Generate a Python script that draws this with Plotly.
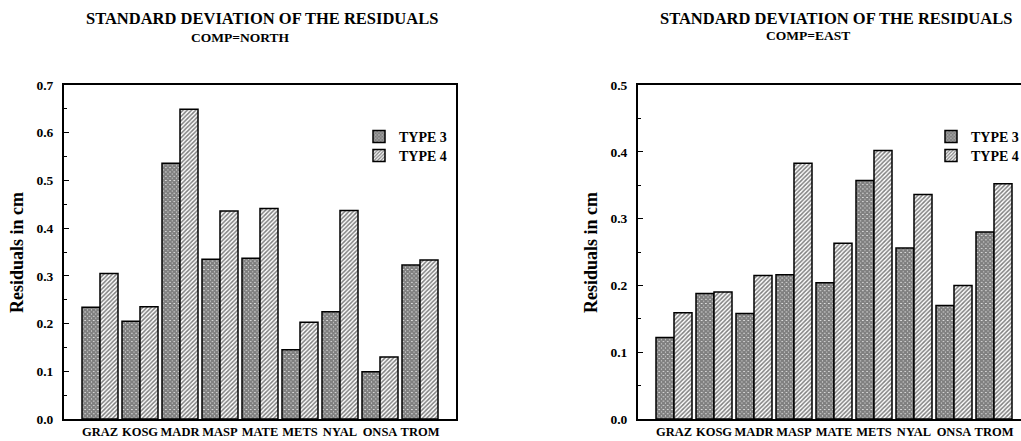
import plotly.graph_objects as go

stations = ["GRAZ", "KOSG", "MADR", "MASP", "MATE", "METS", "NYAL", "ONSA", "TROM"]
north_type3 = [0.234, 0.205, 0.536, 0.335, 0.337, 0.145, 0.225, 0.099, 0.323]
north_type4 = [0.305, 0.235, 0.649, 0.436, 0.441, 0.203, 0.437, 0.130, 0.333]
east_type3 = [0.122, 0.188, 0.158, 0.216, 0.204, 0.357, 0.256, 0.170, 0.280]
east_type4 = [0.159, 0.190, 0.215, 0.383, 0.263, 0.402, 0.336, 0.200, 0.352]
north_yticks = [0.0, 0.1, 0.2, 0.3, 0.4, 0.5, 0.6, 0.7]
east_yticks = [0.0, 0.1, 0.2, 0.3, 0.4, 0.5]

W, H = 1021, 441
FONT = "Liberation Serif"

def px_x(v):
    return v / W

def px_y(v):
    return (H - v) / H

pat3 = dict(shape="x", fgcolor="black", bgcolor="white", size=3, solidity=0.9)
pat4 = dict(shape="/", fgcolor="black", bgcolor="white", size=3, solidity=0.5)
line = dict(color="black", width=1.5)

fig = go.Figure()
fig.add_trace(go.Bar(x=stations, y=north_type3, name="TYPE 3", xaxis="x", yaxis="y",
                     marker=dict(color="white", pattern=pat3, line=line), legend="legend"))
fig.add_trace(go.Bar(x=stations, y=north_type4, name="TYPE 4", xaxis="x", yaxis="y",
                     marker=dict(color="white", pattern=pat4, line=line), legend="legend2"))
fig.add_trace(go.Bar(x=stations, y=east_type3, name="TYPE 3", xaxis="x2", yaxis="y2",
                     marker=dict(color="white", pattern=pat3, line=line), legend="legend3"))
fig.add_trace(go.Bar(x=stations, y=east_type4, name="TYPE 4", xaxis="x2", yaxis="y2",
                     marker=dict(color="white", pattern=pat4, line=line), legend="legend4"))

xtickfont = dict(family=FONT, size=12.5, color="black", weight="bold")
ytickfont = dict(family=FONT, size=13.5, color="black", weight="bold")
ydom = [px_y(419), px_y(85)]

common_x = dict(type="category", showline=True, linewidth=2, linecolor="black",
                ticks="", tickfont=xtickfont, showgrid=False, zeroline=False,
                ticklabelstandoff=0, tickangle=0, automargin=False)
common_y = dict(showline=True, linewidth=2, linecolor="black", ticks="inside",
                ticklen=5, tickwidth=1, tickcolor="black", tickfont=ytickfont,
                showgrid=False, zeroline=False, ticklabelstandoff=6, automargin=False,
                minor=dict(dtick=0.05, ticks="inside", ticklen=3, tickcolor="black", tickwidth=1))

legfont = dict(family=FONT, size=14, color="black", weight="bold")

def leg(xpx, ypx):
    return dict(x=px_x(xpx), y=px_y(ypx), xanchor="left", yanchor="middle",
                font=legfont, bgcolor="rgba(0,0,0,0)", itemclick=False, borderwidth=0)

fig.update_layout(
    width=W, height=H, margin=dict(l=0, r=0, t=0, b=0, autoexpand=False),
    paper_bgcolor="white", plot_bgcolor="white",
    barmode="group", bargap=0.1, bargroupgap=0,
    xaxis=dict(common_x, domain=[px_x(64), px_x(456)], range=[-0.9, 8.9], anchor="y", mirror=True),
    yaxis=dict(common_y, domain=ydom, range=[0, 0.7], tickvals=north_yticks,
               ticktext=[f"{v:.1f}" for v in north_yticks], anchor="x", mirror=True),
    xaxis2=dict(common_x, domain=[px_x(638), 1.0], range=[-0.9, 8.9 - (1030 - W) / 40], anchor="y2", mirror=True),
    yaxis2=dict(common_y, domain=ydom, range=[0, 0.5], tickvals=east_yticks,
                ticktext=[f"{v:.1f}" for v in east_yticks], anchor="x2", mirror=False),
    legend=leg(359, 137),
    legend2=leg(359, 156),
    legend3=leg(931, 137),
    legend4=leg(931, 156),
    showlegend=True,
)

titles = [
    (262, 19, "STANDARD DEVIATION OF THE RESIDUALS", 16.5, 0),
    (240, 38, "COMP=NORTH", 13.5, 0),
    (836, 19, "STANDARD DEVIATION OF THE RESIDUALS", 16.5, 0),
    (808, 36, "COMP=EAST", 13.5, 0),
    (17, 253, "Residuals in cm", 18, -90),
    (591, 253, "Residuals in cm", 18, -90),
]
for x, y, t, s, ang in titles:
    fig.add_annotation(x=px_x(x), y=px_y(y), xref="paper", yref="paper", text=t,
                       showarrow=False, xanchor="center", yanchor="middle", textangle=ang,
                       font=dict(family=FONT, size=s, color="black", weight="bold"))

fig.write_html("out.html")
